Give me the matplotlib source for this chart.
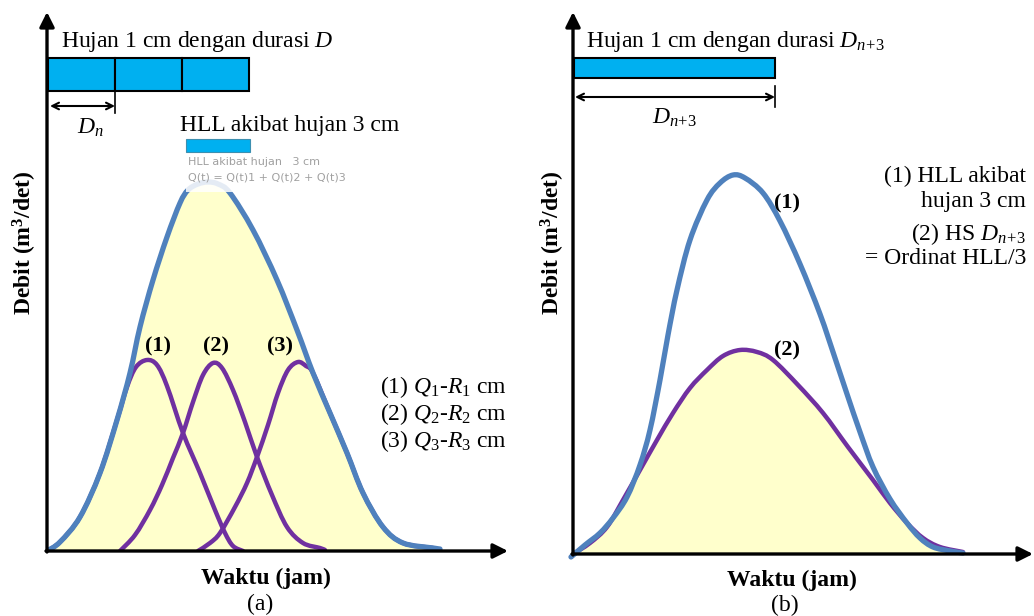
import matplotlib
matplotlib.use("Agg")
import matplotlib.pyplot as plt
from matplotlib.patches import Rectangle, PathPatch
from matplotlib.path import Path

plt.rcParams['font.family'] = ['Liberation Serif', 'DejaVu Serif']
plt.rcParams['mathtext.fontset'] = 'custom'
plt.rcParams['mathtext.rm'] = 'Liberation Serif'
plt.rcParams['mathtext.it'] = 'Liberation Serif:italic'
plt.rcParams['mathtext.bf'] = 'Liberation Serif:bold'

BLUE = '#4F81BD'
PURPLE = '#7030A0'
RAIN = '#00B0F0'
FILL = '#FFFFCC'

# ---- panel (a): HLL akibat hujan 3 cm = sum of three unit hydrographs ----
hll_a_x = [0, 13, 33, 53, 70, 83, 93, 106, 120, 133, 141, 151, 161, 171, 183,
           206, 230, 250, 266, 283, 300, 316, 336, 356, 386, 393]
hll_a_y = [0, 9, 34, 78, 131, 178, 224, 271, 314, 348, 361, 367, 369, 367, 358,
           321, 271, 221, 178, 138, 98, 58, 24, 8, 3, 2]

q1_x = [0, 13, 33, 53, 70, 80, 89, 100, 110, 120, 136, 153, 168, 178, 186, 196]
q1_y = [0, 9, 34, 78, 131, 164, 184, 191, 186, 165, 118, 78, 41, 18, 5, 0]

q2_x = [73, 88, 103, 115, 126, 136, 146, 156, 166, 175, 186, 198, 210, 225,
        240, 256, 273, 278]
q2_y = [0, 16, 41, 66, 93, 118, 149, 176, 188, 183, 161, 129, 94, 56, 24, 8, 3, 1]

q3_x = [151, 163, 173, 188, 200, 210, 221, 231, 241, 251, 259, 266, 283, 300,
        316, 336, 356, 386]
q3_y = [0, 8, 18, 44, 68, 94, 126, 158, 181, 189, 185, 178, 138, 98, 58, 24, 8, 3]

rain_a_start = [0, 67, 134]     # three blocks of duration Dn
rain_a_width = 67

peak_labels_a = ['(1)', '(2)', '(3)']
peak_label_x_a = [111, 169, 233]
legend_a = [r'(1) $Q_1$-$R_1$ cm', r'(2) $Q_2$-$R_2$ cm', r'(3) $Q_3$-$R_3$ cm']

# ---- panel (b): HLL vs HS D(n+3) ----
hll_b_x = [-2, 12, 27, 40, 54, 67, 77, 87, 95, 104, 117, 134, 147, 160, 172, 190,
           207, 227, 247, 262, 274, 287, 300, 317, 334, 347, 360, 377, 390]
hll_b_y = [-3, 9, 21, 36, 57, 89, 124, 174, 219, 264, 314, 354, 371, 379, 376,
           361, 333, 290, 240, 196, 160, 122, 87, 55, 31, 16, 7, 3, 1]

hs_b_x = [0, 17, 34, 50, 67, 84, 100, 117, 134, 150, 167, 184, 200, 225, 250,
          275, 300, 317, 334, 350, 367, 390]
hs_b_y = [0, 11, 27, 54, 84, 114, 141, 166, 184, 198, 204, 202, 194, 169, 141,
          107, 74, 51, 31, 16, 7, 2]

rain_b_start = [0]
rain_b_width = 201

notes_b = ['(1) HLL akibat', 'hujan 3 cm', r'(2) HS $D_{n\!+\!3}$', '= Ordinat HLL/3']

FS = 17

fig = plt.figure(figsize=(10.34, 6.16), dpi=100)
ax_a = fig.add_axes([47 / 1034, 65 / 616, 461 / 1034, 539 / 616])
ax_b = fig.add_axes([573 / 1034, 62 / 616, 460 / 1034, 542 / 616])
ax_a.set_xlim(0, 461)
ax_a.set_ylim(0, 539)
ax_b.set_xlim(0, 460)
ax_b.set_ylim(0, 542)


def smooth_path(xs, ys, closed=False):
    # Catmull-Rom through the read points, drawn as cubic Bezier segments
    pts = list(zip(xs, ys))
    verts = [pts[0]]
    codes = [Path.MOVETO]
    n = len(pts)
    for i in range(n - 1):
        p0 = pts[max(i - 1, 0)]
        p1 = pts[i]
        p2 = pts[i + 1]
        p3 = pts[min(i + 2, n - 1)]
        c1 = (p1[0] + (p2[0] - p0[0]) / 6, p1[1] + (p2[1] - p0[1]) / 6)
        c2 = (p2[0] - (p3[0] - p1[0]) / 6, p2[1] - (p3[1] - p1[1]) / 6)
        verts += [c1, c2, p2]
        codes += [Path.CURVE4] * 3
    if closed:
        verts += [(pts[-1][0], 0), (pts[0][0], 0), pts[0]]
        codes += [Path.LINETO, Path.LINETO, Path.CLOSEPOLY]
    return Path(verts, codes)


def curve(ax, xs, ys, color, lw, z, clip=True):
    ax.add_patch(PathPatch(smooth_path(xs, ys), facecolor='none', edgecolor=color,
                           lw=lw, capstyle='round', joinstyle='round', zorder=z,
                           clip_on=clip))


def area(ax, xs, ys):
    ax.add_patch(PathPatch(smooth_path(xs, ys, closed=True), facecolor=FILL,
                           edgecolor='none', zorder=1))


def draw_axes_arrows(ax, xmax, ymax):
    ap = dict(arrowstyle='-|>', color='black', lw=2.4, mutation_scale=22,
              shrinkA=0, shrinkB=0)
    ax.annotate('', xy=(xmax, 0), xytext=(-1, 0), arrowprops=ap,
                annotation_clip=False, zorder=6)
    ax.annotate('', xy=(0, ymax), xytext=(0, -1), arrowprops=ap,
                annotation_clip=False, zorder=6)
    ax.axis('off')


def dim_arrow(ax, x0, x1, y, tick_lo, tick_hi):
    ax.annotate('', xy=(x0, y), xytext=(x1, y),
                arrowprops=dict(arrowstyle='<->', color='black', lw=1.5,
                                mutation_scale=12, shrinkA=0, shrinkB=0),
                annotation_clip=False)
    ax.plot([x1, x1], [tick_lo, tick_hi], color='black', lw=1.2, clip_on=False)


# ---------------- panel (a) ----------------
ax = ax_a
area(ax, hll_a_x, hll_a_y)
for xs, ys in [(q1_x, q1_y), (q2_x, q2_y), (q3_x, q3_y)]:
    curve(ax, xs, ys, PURPLE, 3.2, 2)
curve(ax, hll_a_x, hll_a_y, BLUE, 3.8, 3)

# pasted overlay at the top of the HLL peak
ax.add_patch(Rectangle((139, 359), 280, 53, facecolor='white', alpha=0.85,
                       edgecolor='none', zorder=4))
ax.add_patch(Rectangle((139, 399), 64, 13, facecolor=RAIN, edgecolor='#3C8FB0',
                       lw=0.8, zorder=5))
ax.text(141, 389, 'HLL akibat hujan   3 cm', fontsize=8, color='#a0a0a0',
        family='DejaVu Sans', va='center', zorder=5)
ax.text(141, 374, 'Q(t) = Q(t)1 + Q(t)2 + Q(t)3', fontsize=8, color='#a0a0a0',
        family='DejaVu Sans', va='center', zorder=5)

for s in rain_a_start:
    ax.add_patch(Rectangle((s + 1, 460), rain_a_width, 33, facecolor=RAIN,
                           edgecolor='black', lw=1.5, zorder=4, clip_on=False))
dim_arrow(ax, 3, rain_a_start[1] + 1, 445, 438, 460)
ax.text(43, 423, r'$D_n$', fontsize=FS, ha='center', va='center')
ax.text(14, 509, r'Hujan 1 cm dengan durasi $D$', fontsize=FS, va='center')
ax.text(133, 426, 'HLL akibat hujan 3 cm', fontsize=FS, va='center')

for lab, lx in zip(peak_labels_a, peak_label_x_a):
    ax.text(lx, 205, lab, fontsize=16, fontweight='bold', ha='center', va='center')
for i, txt in enumerate(legend_a):
    ax.text(333, 164 - 27 * i, txt, fontsize=FS, va='center')

ax.text(-22, 308, r'Debit (m$^{\mathbf{3}}$/det)', fontsize=FS, fontweight='bold',
        rotation=90, ha='center', va='center')
ax.text(219, -27, 'Waktu (jam)', fontsize=FS, fontweight='bold', ha='center',
        va='center')
ax.text(213, -53, '(a)', fontsize=FS, ha='center', va='center')
draw_axes_arrows(ax, 461, 539)

# ---------------- panel (b) ----------------
ax = ax_b
area(ax, hs_b_x, hs_b_y)
curve(ax, hs_b_x, hs_b_y, PURPLE, 3.2, 2)
curve(ax, hll_b_x, hll_b_y, BLUE, 3.8, 3, clip=False)

for s in rain_b_start:
    ax.add_patch(Rectangle((s + 1, 476), rain_b_width, 20, facecolor=RAIN,
                           edgecolor='black', lw=1.5, zorder=4, clip_on=False))
dim_arrow(ax, 2, rain_b_width + 1, 457, 447, 468)
ax.text(102, 436, r'$D_{n\!+\!3}$', fontsize=FS, ha='center', va='center')
ax.text(13, 512, r'Hujan 1 cm dengan durasi $D_{n\!+\!3}$', fontsize=FS,
        va='center')

ax.text(214, 351, '(1)', fontsize=16, fontweight='bold', ha='center', va='center')
ax.text(214, 204, '(2)', fontsize=16, fontweight='bold', ha='center', va='center')
for txt, ty in zip(notes_b, [378, 352, 320, 296]):
    ax.text(453, ty, txt, fontsize=FS, ha='right', va='center')

ax.text(-20, 311, r'Debit (m$^{\mathbf{3}}$/det)', fontsize=FS, fontweight='bold',
        rotation=90, ha='center', va='center')
ax.text(219, -26, 'Waktu (jam)', fontsize=FS, fontweight='bold', ha='center',
        va='center')
ax.text(212, -51, '(b)', fontsize=FS, ha='center', va='center')
draw_axes_arrows(ax, 460, 542)

fig.savefig('out.png', dpi=100)
